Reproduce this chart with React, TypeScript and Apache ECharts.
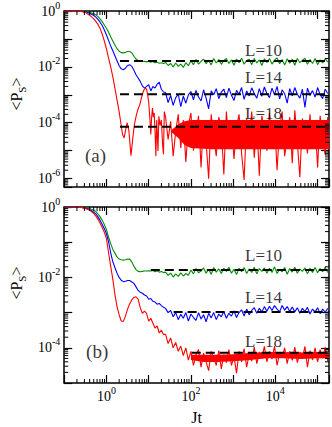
import React, { useEffect, useRef } from 'react';
import * as echarts from 'echarts';

// Both axes are logarithmic: every array below holds log10 values
// (log10 of Jt for times, log10 of <P_S> for probabilities).

const FONT = '"Liberation Serif", "Times New Roman", serif';

// x range (log10 Jt) and y ranges (log10 <P_S>)
const X_MIN = -1;
const X_MAX = 5.27;
const Y_MIN_A = -6.3;
const Y_MIN_B = -5;
const Y_MAX = 0;

// labelled decades (tick labels 10^n)
const X_TICK_LABELS = [0, 2, 4];
const Y_TICK_LABELS_A = [0, -2, -4, -6];
const Y_TICK_LABELS_B = [0, -2, -4];

const SERIES_NAMES = ['L=10', 'L=14', 'L=18'];
const COLORS = ['#008f00', '#0000ff', '#ff0000'];

// early-time grid (log10 Jt)
const LT_EARLY = [-1, -0.8, -0.6, -0.5, -0.4, -0.3, -0.25, -0.2, -0.15, -0.1, -0.05, 0, 0.05, 0.1, 0.15, 0.2, 0.25, 0.3, 0.35, 0.4, 0.45, 0.5, 0.55, 0.6, 0.65, 0.7, 0.75, 0.8, 0.85, 0.9, 0.95, 1.0, 1.05, 1.1, 1.15, 1.2, 1.25, 1.3, 1.35];

// long-time grid (log10 Jt)
const LT_NOISE = [
  1.40, 1.46, 1.52, 1.58, 1.64, 1.70, 1.76, 1.82, 1.88, 1.94,
  2.00, 2.06, 2.12, 2.18, 2.24, 2.30, 2.36, 2.42, 2.48, 2.54,
  2.60, 2.66, 2.72, 2.78, 2.84, 2.90, 2.96, 3.02, 3.08, 3.14,
  3.20, 3.26, 3.32, 3.38, 3.44, 3.50, 3.56, 3.62, 3.68, 3.74,
  3.80, 3.86, 3.92, 3.98, 4.04, 4.10, 4.16, 4.22, 4.28, 4.34,
  4.40, 4.46, 4.52, 4.58, 4.64, 4.70, 4.76, 4.82, 4.88, 4.94,
  5.00, 5.06, 5.12, 5.18, 5.24,
];

// ---------- panel (a) ----------
const greenAEarly = [0, 0, -0.005, -0.015, -0.05, -0.1, -0.14, -0.2, -0.28, -0.38, -0.5, -0.62, -0.76, -0.92, -1.07, -1.22, -1.35, -1.44, -1.49, -1.5, -1.48, -1.45, -1.45, -1.5, -1.62, -1.72, -1.78, -1.8, -1.81, -1.8, -1.82, -1.8, -1.83, -1.81, -1.85, -1.83, -1.87, -1.85, -1.88];
const blueAEarly = [0, 0, -0.01, -0.03, -0.08, -0.16, -0.22, -0.3, -0.4, -0.52, -0.68, -0.86, -1.05, -1.25, -1.42, -1.6, -1.78, -1.96, -2.07, -2.1, -2.05, -1.95, -1.92, -1.98, -2.12, -2.28, -2.4, -2.52, -2.68, -2.76, -2.7, -2.64, -2.86, -2.7, -2.76, -2.62, -2.55, -2.8, -2.9];
const LT_RED_A = [-1, -0.8, -0.6, -0.5, -0.4, -0.3, -0.2, -0.15, -0.1, -0.05, 0, 0.05, 0.1, 0.15, 0.2, 0.25, 0.3, 0.34, 0.38, 0.42, 0.46, 0.49, 0.53, 0.56, 0.58, 0.6, 0.62, 0.66, 0.71, 0.75, 0.79, 0.83, 0.86, 0.89, 0.92, 0.95, 0.97, 1.0, 1.03, 1.05, 1.07, 1.09, 1.11, 1.13, 1.15, 1.17, 1.19, 1.22, 1.24, 1.27, 1.3, 1.33, 1.35, 1.37];
const redAEarly = [0, -0.005, -0.02, -0.05, -0.15, -0.28, -0.48, -0.63, -0.83, -1.08, -1.36, -1.69, -2.0, -2.35, -2.76, -3.18, -3.6, -4.0, -4.42, -4.54, -4.2, -4.0, -4.27, -4.8, -5.18, -4.9, -4.6, -4.08, -3.71, -3.5, -3.35, -3.1, -2.94, -2.82, -2.76, -2.8, -2.95, -3.25, -3.9, -4.42, -3.8, -3.47, -3.8, -3.65, -4.3, -5.2, -3.9, -5.01, -3.77, -4.1, -3.9, -4.8, -5.13, -3.6];

const greenANoise = [
  -1.84, -1.95, -1.88, -2.0, -1.86, -1.98, -1.9, -2.02, -1.85, -1.96,
  -1.78, -1.92, -1.74, -1.9, -1.8, -1.72, -1.89, -1.76, -1.93, -1.7,
  -1.86, -1.74, -1.91, -1.78, -1.7, -1.88, -1.75, -1.94, -1.72, -1.85,
  -1.69, -1.9, -1.77, -1.73, -1.92, -1.7, -1.86, -1.75, -1.95, -1.71,
  -1.84, -1.7, -1.9, -1.76, -1.68, -1.89, -1.74, -1.93, -1.71, -1.87,
  -1.73, -1.94, -1.7, -1.85, -1.77, -1.69, -1.91, -1.74, -1.88, -1.7,
  -1.92, -1.75, -1.86, -1.71, -1.83,
];
const blueANoise = [
  -2.92, -3.28, -3.02, -3.38, -3.1, -2.98, -3.42, -3.05, -3.3, -3.0,
  -2.88, -3.18, -2.84, -3.08, -3.22, -2.82, -3.12, -3.5, -2.86, -3.0,
  -2.78, -3.14, -2.9, -2.8, -3.1, -2.76, -3.02, -3.2, -2.84, -2.98,
  -2.74, -3.16, -2.86, -3.04, -2.75, -2.95, -3.12, -2.78, -3.05, -2.72,
  -2.96, -3.1, -2.76, -3.0, -2.7, -3.15, -2.82, -2.96, -3.3, -2.78,
  -3.04, -2.74, -2.98, -3.12, -2.8, -3.45, -2.76, -3.02, -2.85, -3.08,
  -2.74, -3.0, -3.14, -2.8, -2.95,
];
const redANoise = [
  -3.8, -4.6, -3.95, -5.2, -4.3, -3.7, -4.9, -3.9, -5.4, -4.1,
  -3.65, -5.0, -4.4, -3.75, -5.6, -3.9, -4.7, -6.0, -3.7, -4.5,
  -5.2, -3.8, -4.2, -5.85, -3.6, -4.8, -3.95, -5.3, -4.15, -3.7,
  -5.1, -6.05, -3.85, -4.6, -3.6, -5.25, -4.0, -5.9, -3.75, -4.4,
  -5.0, -3.65, -4.9, -3.9, -5.7, -4.2, -3.6, -5.2, -4.5, -3.8,
  -5.45, -3.55, -4.7, -5.95, -3.85, -4.3, -5.1, -3.7, -4.9, -3.95,
  -5.6, -3.75, -4.6, -5.15, -3.8,
];
// dense core of the red (a) fluctuations
const LT_RED_A_BAND = [1.55, 1.7, 1.85, 2.0, 2.5, 3.0, 3.5, 4.0, 4.5, 5.0, 5.27];
const redABandHigh = [-4.25, -4.05, -3.95, -3.9, -3.9, -3.9, -3.9, -3.9, -3.9, -3.9, -3.9];
const redABandLow = [-4.35, -4.55, -4.8, -4.9, -4.95, -4.95, -4.95, -4.95, -4.95, -4.95, -4.95];

// ---------- panel (b) ----------
const greenBEarly = [0, 0, -0.005, -0.015, -0.04, -0.09, -0.13, -0.2, -0.28, -0.38, -0.5, -0.64, -0.86, -1.04, -1.2, -1.31, -1.42, -1.48, -1.5, -1.51, -1.5, -1.48, -1.48, -1.56, -1.68, -1.78, -1.83, -1.84, -1.83, -1.82, -1.82, -1.81, -1.82, -1.8, -1.84, -1.81, -1.85, -1.83, -1.86];
const blueBEarly = [0, 0, -0.01, -0.03, -0.07, -0.15, -0.2, -0.28, -0.38, -0.5, -0.62, -0.76, -0.99, -1.3, -1.55, -1.72, -1.88, -2.0, -2.08, -2.12, -2.11, -2.09, -2.09, -2.13, -2.17, -2.27, -2.37, -2.42, -2.45, -2.5, -2.53, -2.62, -2.6, -2.68, -2.7, -2.76, -2.74, -2.8, -2.85];
const redBEarly = [0, 0, -0.01, -0.04, -0.09, -0.19, -0.26, -0.35, -0.46, -0.58, -0.72, -0.9, -1.3, -1.68, -2.05, -2.48, -2.83, -3.06, -3.24, -3.25, -3.1, -2.9, -2.75, -2.64, -2.57, -2.55, -2.62, -2.86, -3.02, -2.96, -3.02, -3.24, -3.16, -3.3, -3.44, -3.38, -3.58, -3.5, -3.62];

const greenBNoise = [
  -1.85, -1.94, -1.88, -1.99, -1.9, -1.97, -1.87, -1.96, -1.89, -1.94,
  -1.79, -1.9, -1.75, -1.87, -1.82, -1.73, -1.88, -1.77, -1.91, -1.72,
  -1.85, -1.76, -1.89, -1.74, -1.83, -1.71, -1.88, -1.77, -1.92, -1.74,
  -1.84, -1.72, -1.89, -1.76, -1.86, -1.71, -1.9, -1.75, -1.83, -1.73,
  -1.88, -1.74, -1.86, -1.7, -1.89, -1.77, -1.84, -1.72, -1.91, -1.75,
  -1.85, -1.71, -1.88, -1.76, -1.83, -1.73, -1.9, -1.74, -1.86, -1.72,
  -1.87, -1.75, -1.84, -1.71, -1.86,
];
const blueBNoise = [
  -2.88, -3.0, -2.94, -3.12, -3.0, -3.2, -3.05, -3.16, -3.0, -3.24,
  -3.04, -3.14, -3.22, -3.0, -3.18, -3.06, -3.26, -3.02, -3.15, -3.0,
  -3.2, -3.04, -3.12, -2.97, -3.16, -3.02, -3.1, -2.95, -3.14, -3.0,
  -2.92, -3.1, -2.9, -3.06, -2.94, -2.86, -3.02, -2.88, -2.98, -2.83,
  -2.96, -2.82, -2.94, -2.8, -2.9, -2.98, -2.8, -2.93, -2.83, -2.97,
  -2.84, -2.98, -2.86, -3.02, -2.88, -2.97, -2.85, -3.04, -2.9, -2.98,
  -2.86, -3.03, -2.9, -2.99, -2.88,
];
const redBNoise = [
  -3.62, -3.88, -3.72, -4.0, -3.85, -4.1, -3.95, -4.22, -4.0, -4.35,
  -4.1, -4.5, -4.2, -4.05, -4.55, -4.15, -4.4, -4.65, -4.1, -4.3,
  -4.5, -4.08, -4.6, -4.2, -4.42, -4.05, -4.5, -4.25, -4.72, -4.1,
  -4.4, -4.02, -4.55, -4.18, -4.38, -3.98, -4.45, -4.12, -4.3, -3.96,
  -4.4, -4.1, -4.32, -3.95, -4.5, -4.15, -4.28, -4.0, -4.45, -4.1,
  -4.36, -3.98, -4.42, -4.12, -4.3, -3.96, -4.55, -4.08, -4.35, -4.0,
  -4.4, -4.05, -4.3, -3.98, -4.38,
];
const LT_RED_B_BAND = [2.0, 2.3, 2.6, 3.0, 3.4, 3.8, 4.2, 4.6, 5.0, 5.27];
const redBBandHigh = [-4.2, -4.2, -4.2, -4.18, -4.15, -4.12, -4.12, -4.13, -4.12, -4.12];
const redBBandLow = [-4.35, -4.4, -4.4, -4.38, -4.35, -4.3, -4.3, -4.32, -4.3, -4.3];

// long-time averages (dashed lines) and where they start (log10 Jt)
const PLATEAU = [-1.79, -2.98, -4.14];
const PLATEAU_START_A = [0.32, 0.32, 0.32];
const PLATEAU_START_B = [1.05, 1.59, 2.02];

// annotation anchors (log10 Jt, log10 <P_S>)
const LABEL_POS_A = [[3.72, -1.4], [3.72, -2.38], [3.72, -3.66]];
const LABEL_POS_B = [[3.72, -1.39], [3.72, -2.57], [3.72, -3.81]];
const PANEL_TAGS = ['(a)', '(b)'];
const PANEL_TAG_POS = [[-0.26, -5.16], [-0.22, -4.1]];

const pairs = (xs: number[], ys: number[]) => xs.map((x, i) => [x, ys[i]]);

function minorTickData(yMin: number) {
  const out: number[][] = [];
  for (let n = -1; n <= 5; n++) {
    for (let m = 2; m <= 9; m++) {
      const v = n + Math.log10(m);
      if (v > X_MIN && v < X_MAX) out.push([v, yMin, 0]);
    }
  }
  for (let n = -7; n <= -1; n++) {
    for (let m = 2; m <= 9; m++) {
      const v = n + Math.log10(m);
      if (v > yMin && v < Y_MAX) out.push([X_MIN, v, 1]);
    }
  }
  return out;
}

const RICH_TICK = {
  b: { fontFamily: FONT, fontSize: 14, color: '#000', lineHeight: 14, verticalAlign: 'bottom' },
  s: { fontFamily: FONT, fontSize: 10, color: '#000', lineHeight: 10, verticalAlign: 'bottom', padding: [0, 0, 8, 0] },
};

const fmt = (list: number[]) => (v: number) => {
  const r = Math.round(v);
  if (Math.abs(v - r) > 1e-6 || !list.includes(r)) return '';
  return `{b|10}{s|${r === 0 ? 0 : r}}`;
};

function buildOption() {
  const grids = [
    { left: 58, top: 11, width: 271, height: 176 },
    { left: 58, top: 207, width: 271, height: 176 },
  ];
  const yMins = [Y_MIN_A, Y_MIN_B];
  const yLabels = [Y_TICK_LABELS_A, Y_TICK_LABELS_B];
  const axisLine = { show: true, onZero: false, lineStyle: { color: '#000', width: 1.5 } };
  const axisTick = { show: true, inside: true, length: 8, lineStyle: { color: '#000', width: 1.2 } };

  const xAxis: any[] = [];
  const yAxis: any[] = [];
  [0, 1].forEach((g) => {
    xAxis.push({
      type: 'value', gridIndex: g, position: 'bottom', min: X_MIN, max: X_MAX, interval: 1,
      axisLine, axisTick, splitLine: { show: false },
      axisLabel: { show: g === 1, margin: 6, formatter: fmt(X_TICK_LABELS), rich: RICH_TICK },
      name: g === 1 ? 'Jt' : '', nameLocation: 'middle', nameGap: 26,
      nameTextStyle: { fontFamily: FONT, fontSize: 16, color: '#000' },
    });
    xAxis.push({
      type: 'value', gridIndex: g, position: 'top', min: X_MIN, max: X_MAX, interval: 1,
      axisLine, axisTick, splitLine: { show: false }, axisLabel: { show: false },
    });
    yAxis.push({
      type: 'value', gridIndex: g, position: 'left', min: yMins[g], max: Y_MAX, splitNumber: g === 0 ? 6 : 5,
      axisLine, axisTick, splitLine: { show: false },
      axisLabel: { show: true, margin: 4, formatter: fmt(yLabels[g]), rich: RICH_TICK },
      name: '{a|<P}{s|S}{a|>}', nameLocation: 'middle', nameGap: 38, nameRotate: 90,
      nameTextStyle: {
        padding: g === 0 ? [0, 0, 0, 10] : [0, 0, 0, 24],
        rich: {
          a: { fontFamily: FONT, fontSize: 16, color: '#000', lineHeight: 16, verticalAlign: 'top' },
          s: { fontFamily: FONT, fontSize: 11, color: '#000', lineHeight: 11, verticalAlign: 'top', padding: [8, 0, 0, 0] },
        },
      },
    });
    yAxis.push({
      type: 'value', gridIndex: g, position: 'right', min: yMins[g], max: Y_MAX, splitNumber: g === 0 ? 6 : 5,
      axisLine, axisTick, splitLine: { show: false }, axisLabel: { show: false },
    });
  });

  const series: any[] = [];
  const earlyA = [pairs(LT_EARLY, greenAEarly), pairs(LT_EARLY, blueAEarly), pairs(LT_RED_A, redAEarly)];
  const noiseA = [pairs(LT_NOISE, greenANoise), pairs(LT_NOISE, blueANoise), pairs(LT_NOISE, redANoise)];
  const earlyB = [pairs(LT_EARLY, greenBEarly), pairs(LT_EARLY, blueBEarly), pairs(LT_EARLY, redBEarly)];
  const noiseB = [pairs(LT_NOISE, greenBNoise), pairs(LT_NOISE, blueBNoise), pairs(LT_NOISE, redBNoise)];
  const bands = [
    { lt: LT_RED_A_BAND, hi: redABandHigh, lo: redABandLow },
    { lt: LT_RED_B_BAND, hi: redBBandHigh, lo: redBBandLow },
  ];
  const starts = [PLATEAU_START_A, PLATEAU_START_B];
  const labelPos = [LABEL_POS_A, LABEL_POS_B];

  [0, 1].forEach((g) => {
    const xi = g * 2;
    const yi = g * 2;
    const yMin = yMins[g];
    const early = g === 0 ? earlyA : earlyB;
    const noise = g === 0 ? noiseA : noiseB;

    // minor (log) ticks on all four sides
    series.push({
      type: 'custom', xAxisIndex: xi, yAxisIndex: yi, silent: true, z: 6,
      data: minorTickData(yMin),
      renderItem: (_p: any, api: any) => {
        const a = api.value(0);
        const b = api.value(1);
        const kind = api.value(2);
        const st = { stroke: '#000', lineWidth: 1 };
        if (kind === 0) {
          const p0 = api.coord([a, yMin]);
          const p1 = api.coord([a, Y_MAX]);
          return {
            type: 'group', children: [
              { type: 'line', shape: { x1: p0[0], y1: p0[1], x2: p0[0], y2: p0[1] - 4 }, style: st },
              { type: 'line', shape: { x1: p1[0], y1: p1[1], x2: p1[0], y2: p1[1] + 4 }, style: st },
            ],
          };
        }
        const q0 = api.coord([X_MIN, b]);
        const q1 = api.coord([X_MAX, b]);
        return {
          type: 'group', children: [
            { type: 'line', shape: { x1: q0[0], y1: q0[1], x2: q0[0] + 4, y2: q0[1] }, style: st },
            { type: 'line', shape: { x1: q1[0], y1: q1[1], x2: q1[0] - 4, y2: q1[1] }, style: st },
          ],
        };
      },
    });

    // red fluctuation core
    const band = bands[g];
    series.push({
      type: 'custom', xAxisIndex: xi, yAxisIndex: yi, silent: true, z: 2,
      data: [[band.lt[0], band.hi[0]]],
      renderItem: (_p: any, api: any) => {
        const up = band.lt.map((x, i) => api.coord([x, band.hi[i]]));
        const down = band.lt.map((x, i) => api.coord([x, band.lo[i]])).reverse();
        return { type: 'polygon', shape: { points: up.concat(down) }, style: { fill: COLORS[2] } };
      },
    });

    [0, 1, 2].forEach((k) => {
      series.push({
        type: 'line', xAxisIndex: xi, yAxisIndex: yi, name: SERIES_NAMES[k],
        data: early[k].concat(noise[k]), showSymbol: false, symbol: 'none', clip: true,
        lineStyle: { color: COLORS[k], width: 1.1 }, itemStyle: { color: COLORS[k] }, z: 2,
      });
    });

    [0, 1, 2].forEach((k) => {
      series.push({
        type: 'line', xAxisIndex: xi, yAxisIndex: yi, silent: true,
        data: [[starts[g][k], PLATEAU[k]], [X_MAX, PLATEAU[k]]], showSymbol: false, symbol: 'none',
        lineStyle: { color: '#000', width: 2, type: [9, 5] }, z: 4,
      });
    });

    series.push({
      type: 'scatter', xAxisIndex: xi, yAxisIndex: yi, silent: true, symbolSize: 1,
      itemStyle: { color: 'rgba(0,0,0,0)' }, z: 5,
      data: SERIES_NAMES.map((n, k) => ({ name: n, value: labelPos[g][k] })),
      label: { show: true, position: 'inside', formatter: '{b}', fontFamily: FONT, fontSize: 17, color: '#000' },
    });
    series.push({
      type: 'scatter', xAxisIndex: xi, yAxisIndex: yi, silent: true, symbolSize: 1,
      itemStyle: { color: 'rgba(0,0,0,0)' }, z: 5,
      data: [{ name: PANEL_TAGS[g], value: PANEL_TAG_POS[g] }],
      label: { show: true, position: 'inside', formatter: '{b}', fontFamily: FONT, fontSize: 19, color: '#000' },
    });
  });

  return {
    animation: false,
    backgroundColor: '#fff',
    grid: grids,
    xAxis,
    yAxis,
    series,
  };
}

export default function App() {
  const ref = useRef<HTMLDivElement>(null);
  useEffect(() => {
    const chart = echarts.init(ref.current!, null, { renderer: 'svg' });
    chart.setOption(buildOption() as any);
    return () => chart.dispose();
  }, []);
  return <div ref={ref} style={{ position: 'fixed', left: 0, top: 0, width: 332, height: 427 }} />;
}
